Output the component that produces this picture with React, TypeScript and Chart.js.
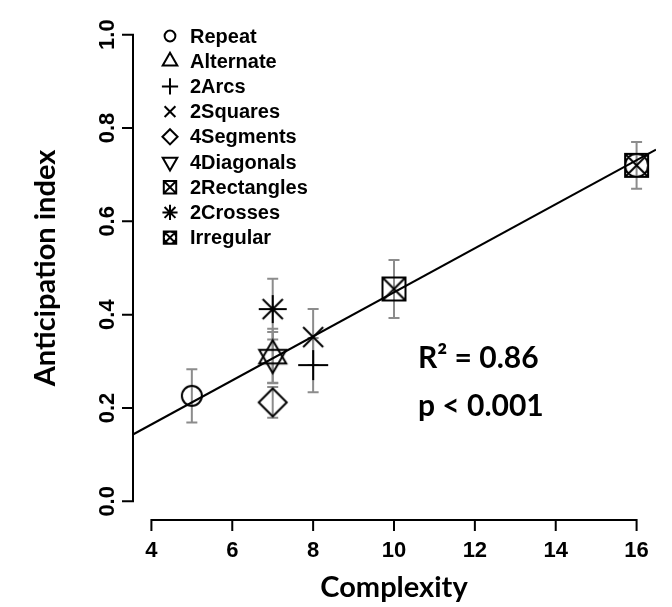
import React, { useEffect, useRef } from 'react';
import { Chart, registerables } from 'chart.js';

Chart.register(...registerables);

// Shape categories, their complexity and the mean anticipation index (± error)
const categories = ['Repeat', 'Alternate', '2Arcs', '2Squares', '4Segments', '4Diagonals', '2Rectangles', '2Crosses', 'Irregular'];
const complexity = [5, 7, 8, 8, 7, 7, 10, 7, 16];
const anticipation = [0.226, 0.312, 0.292, 0.352, 0.212, 0.308, 0.455, 0.412, 0.72];
const errors = [0.057, 0.058, 0.058, 0.06, 0.033, 0.055, 0.062, 0.065, 0.05];
const symbolKinds = ['circle', 'triangleUp', 'plus', 'cross', 'diamond', 'triangleDown', 'squareX', 'asterisk', 'irregular'];

// Axis ticks and limits
const xTicks = [4, 6, 8, 10, 12, 14, 16];
const yTicks = [0, 0.2, 0.4, 0.6, 0.8, 1.0];
const xLimits = [3.52, 16.48];
const yLimits = [-0.04, 1.04];

// Linear fit and its statistics
const fitIntercept = -0.024;
const fitSlope = 0.0472;
const rSquaredText = 'R\u00B2 = 0.86';
const pValueText = 'p < 0.001';

const xTitle = 'Complexity';
const yTitle = 'Anticipation index';

const TICK_FONT = 'bold 22px "Liberation Sans", Arial, sans-serif';
const LEGEND_FONT = 'bold 20px "Liberation Sans", Arial, sans-serif';
const TITLE_FONT = 'bold 29px Lato, "Open Sans", sans-serif';
const STATS_FONT = 'bold 30px Lato, "Open Sans", sans-serif';

const plotSize: Record<string, number> = {
  circle: 10,
  triangleUp: 13.5,
  triangleDown: 13.5,
  plus: 15,
  cross: 10,
  diamond: 14,
  squareX: 11.5,
  asterisk: 14,
  irregular: 11.5,
};
const legendScale = 0.54;

function traceSymbol(ctx: CanvasRenderingContext2D, kind: string, cx: number, cy: number, s: number) {
  ctx.beginPath();
  const h = s * Math.sqrt(3);
  switch (kind) {
    case 'circle':
      ctx.arc(cx, cy, s, 0, Math.PI * 2);
      break;
    case 'triangleUp':
      ctx.moveTo(cx, cy - (2 * h) / 3);
      ctx.lineTo(cx + s, cy + h / 3);
      ctx.lineTo(cx - s, cy + h / 3);
      ctx.closePath();
      break;
    case 'triangleDown':
      ctx.moveTo(cx, cy + (2 * h) / 3);
      ctx.lineTo(cx + s, cy - h / 3);
      ctx.lineTo(cx - s, cy - h / 3);
      ctx.closePath();
      break;
    case 'plus':
      ctx.moveTo(cx - s, cy);
      ctx.lineTo(cx + s, cy);
      ctx.moveTo(cx, cy - s);
      ctx.lineTo(cx, cy + s);
      break;
    case 'cross':
      ctx.moveTo(cx - s, cy - s);
      ctx.lineTo(cx + s, cy + s);
      ctx.moveTo(cx + s, cy - s);
      ctx.lineTo(cx - s, cy + s);
      break;
    case 'diamond':
      ctx.moveTo(cx, cy - s);
      ctx.lineTo(cx + s, cy);
      ctx.lineTo(cx, cy + s);
      ctx.lineTo(cx - s, cy);
      ctx.closePath();
      break;
    case 'squareX':
      ctx.rect(cx - s, cy - s, 2 * s, 2 * s);
      ctx.moveTo(cx - s, cy - s);
      ctx.lineTo(cx + s, cy + s);
      ctx.moveTo(cx + s, cy - s);
      ctx.lineTo(cx - s, cy + s);
      break;
    case 'asterisk': {
      const d = s * 0.72;
      ctx.moveTo(cx - s, cy);
      ctx.lineTo(cx + s, cy);
      ctx.moveTo(cx, cy - s);
      ctx.lineTo(cx, cy + s);
      ctx.moveTo(cx - d, cy - d);
      ctx.lineTo(cx + d, cy + d);
      ctx.moveTo(cx + d, cy - d);
      ctx.lineTo(cx - d, cy + d);
      break;
    }
    case 'irregular':
      ctx.rect(cx - s, cy - s, 2 * s, 2 * s);
      ctx.moveTo(cx - s, cy - s);
      ctx.lineTo(cx + s, cy + s);
      ctx.moveTo(cx + s, cy - s);
      ctx.lineTo(cx - s, cy + s);
      ctx.moveTo(cx + s, cy);
      ctx.arc(cx, cy, s, 0, Math.PI * 2);
      break;
  }
  ctx.stroke();
}

function makeSymbolImage(kind: string, s: number, lineWidth: number): HTMLCanvasElement {
  const canvas = document.createElement('canvas');
  const extent = kind.startsWith('triangle') ? s * 1.2 : s;
  const size = Math.ceil(2 * (extent + lineWidth + 2));
  canvas.width = size;
  canvas.height = size;
  const ctx = canvas.getContext('2d')!;
  ctx.strokeStyle = '#000';
  ctx.lineWidth = lineWidth;
  ctx.lineJoin = 'miter';
  traceSymbol(ctx, kind, size / 2, size / 2, s);
  return canvas;
}

const errorBarPlugin = {
  id: 'errorBars',
  beforeDatasetsDraw(chart: any) {
    const { ctx, scales } = chart;
    const xs = scales.x;
    const ys = scales.y;
    ctx.save();
    ctx.strokeStyle = '#8c8c8c';
    ctx.lineWidth = 2;
    const cap = 5.5;
    complexity.forEach((cx, i) => {
      const px = xs.getPixelForValue(cx);
      const top = ys.getPixelForValue(anticipation[i] + errors[i]);
      const bottom = ys.getPixelForValue(anticipation[i] - errors[i]);
      ctx.beginPath();
      ctx.moveTo(px, top);
      ctx.lineTo(px, bottom);
      ctx.moveTo(px - cap, top);
      ctx.lineTo(px + cap, top);
      ctx.moveTo(px - cap, bottom);
      ctx.lineTo(px + cap, bottom);
      ctx.stroke();
    });
    ctx.restore();
  },
};

const axesPlugin = {
  id: 'axesAndText',
  afterDraw(chart: any) {
    const { ctx, scales, chartArea } = chart;
    const xs = scales.x;
    const ys = scales.y;
    const tickLen = 10;
    ctx.save();
    ctx.strokeStyle = '#000';
    ctx.fillStyle = '#000';
    ctx.lineWidth = 2;
    ctx.lineCap = 'square';

    // x axis
    const axisY = chartArea.bottom;
    ctx.beginPath();
    ctx.moveTo(xs.getPixelForValue(xTicks[0]), axisY);
    ctx.lineTo(xs.getPixelForValue(xTicks[xTicks.length - 1]), axisY);
    xTicks.forEach((t) => {
      const px = xs.getPixelForValue(t);
      ctx.moveTo(px, axisY);
      ctx.lineTo(px, axisY + tickLen);
    });
    ctx.stroke();
    ctx.font = TICK_FONT;
    ctx.textAlign = 'center';
    ctx.textBaseline = 'alphabetic';
    xTicks.forEach((t) => {
      ctx.fillText(String(t), xs.getPixelForValue(t), axisY + 37);
    });

    // y axis
    const axisX = chartArea.left + 1;
    ctx.beginPath();
    ctx.moveTo(axisX, ys.getPixelForValue(yTicks[0]));
    ctx.lineTo(axisX, ys.getPixelForValue(yTicks[yTicks.length - 1]));
    yTicks.forEach((t) => {
      const py = ys.getPixelForValue(t);
      ctx.moveTo(axisX, py);
      ctx.lineTo(axisX - tickLen, py);
    });
    ctx.stroke();
    yTicks.forEach((t) => {
      const py = ys.getPixelForValue(t);
      ctx.save();
      ctx.translate(axisX - 19, py);
      ctx.rotate(-Math.PI / 2);
      ctx.textAlign = 'center';
      ctx.fillText(t.toFixed(1), 0, 0);
      ctx.restore();
    });

    // axis titles
    ctx.font = TITLE_FONT;
    ctx.textAlign = 'center';
    ctx.textBaseline = 'alphabetic';
    ctx.fillText(xTitle, (chartArea.left + chartArea.right) / 2, 597);
    ctx.save();
    ctx.translate(55, (chartArea.top + chartArea.bottom) / 2);
    ctx.rotate(-Math.PI / 2);
    ctx.fillText(yTitle, 0, 0);
    ctx.restore();

    // fit statistics
    ctx.font = STATS_FONT;
    ctx.textAlign = 'left';
    ctx.fillText(rSquaredText, 418, 368);
    ctx.fillText(pValueText, 418, 416);

    // legend
    ctx.font = LEGEND_FONT;
    ctx.textBaseline = 'middle';
    ctx.lineCap = 'butt';
    categories.forEach((name, i) => {
      const y = 36 + i * 25.2;
      const kind = symbolKinds[i];
      ctx.lineWidth = 2;
      traceSymbol(ctx, kind, 170, y, plotSize[kind] * legendScale);
      ctx.fillText(name, 190, y + 1);
    });
    ctx.restore();
  },
};

export default function App() {
  const canvasRef = useRef<HTMLCanvasElement | null>(null);

  useEffect(() => {
    const canvas = canvasRef.current;
    if (!canvas) return;

    const fitLine = xLimits.map((x) => ({ x, y: fitIntercept + fitSlope * x }));

    const pointSets = categories.map((name, i) => ({
      type: 'scatter' as const,
      label: name,
      data: [{ x: complexity[i], y: anticipation[i] }],
      pointStyle: makeSymbolImage(symbolKinds[i], plotSize[symbolKinds[i]], 2),
      pointRadius: plotSize[symbolKinds[i]],
      showLine: false,
    }));

    const chart = new Chart(canvas, {
      type: 'scatter',
      data: {
        datasets: [
          {
            type: 'line' as const,
            label: 'fit',
            data: fitLine,
            borderColor: '#000',
            borderWidth: 2,
            pointRadius: 0,
            fill: false,
          },
          ...pointSets,
        ] as any,
      },
      options: {
        responsive: false,
        animation: false,
        events: [],
        layout: { padding: { left: 132, right: 7, top: 7, bottom: 87 } },
        scales: {
          x: { type: 'linear', min: xLimits[0], max: xLimits[1], display: false },
          y: { type: 'linear', min: yLimits[0], max: yLimits[1], display: false },
        },
        plugins: {
          legend: { display: false },
          tooltip: { enabled: false },
        },
      },
      plugins: [errorBarPlugin, axesPlugin],
    });

    return () => chart.destroy();
  }, []);

  return (
    <div style={{ position: 'fixed', left: 0, top: 0, width: 672, height: 607, background: '#fff' }}>
      <canvas ref={canvasRef} width={672} height={607} />
    </div>
  );
}
